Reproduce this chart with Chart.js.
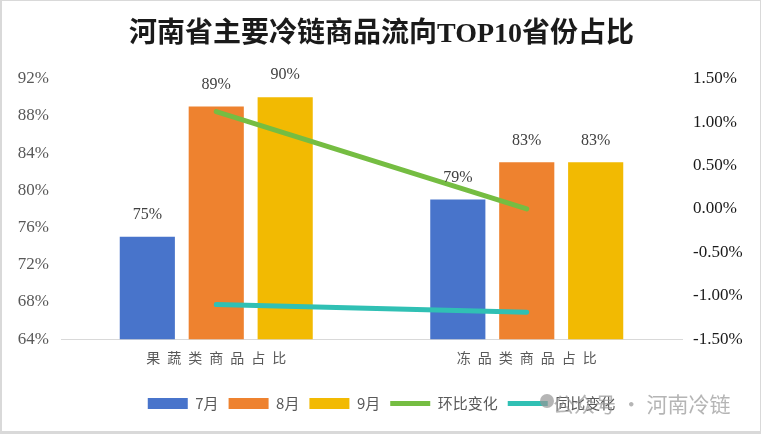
<!DOCTYPE html>
<html>
<head>
<meta charset="utf-8">
<script src="https://cdn.jsdelivr.net/npm/chart.js@4"></script>
<style>
  html, body { margin: 0; padding: 0; background: #fff; }
  #wrap {
    width: 761px; height: 434px; box-sizing: border-box; position: relative;
    border-style: solid; border-color: #d9d9d9;
    border-width: 1px 1px 3px 2px;
  }
  #chart { display: block; }
</style>
</head>
<body>
<div id="wrap"><canvas id="chart" width="758" height="430"></canvas></div>
<script>
// dados
const categorias = ['果蔬类商品占比', '冻品类商品占比'];
const julho = [75, 79];
const agosto = [89, 83];
const setembro = [90, 83];
const huanbi = [1.12, 0.0];     // 环比变化 (%)
const tongbi = [-1.10, -1.19];  // 同比变化 (%)
const ticksEsquerda = [64, 68, 72, 76, 80, 84, 88, 92];
const ticksDireita = [-1.5, -1.0, -0.5, 0, 0.5, 1.0, 1.5];

const serif = "'Liberation Serif', 'Times New Roman', 'Noto Sans CJK SC', serif";
const cjk = "'Noto Sans CJK SC', 'Liberation Serif', sans-serif";

// rótulos em cima das barras
const rotulosBarras = {
    id: 'rotulosBarras',
    afterDatasetsDraw(chart) {
        const ctx = chart.ctx;
        ctx.save();
        ctx.font = '16px ' + serif;
        ctx.fillStyle = '#404040';
        ctx.textAlign = 'center';
        ctx.textBaseline = 'middle';
        chart.data.datasets.forEach((ds, i) => {
            if (ds.type !== 'bar') return;
            chart.getDatasetMeta(i).data.forEach((bar, j) => {
                ctx.fillText(ds.data[j] + '%', bar.x, bar.y - 22);
            });
        });
        ctx.restore();
    }
};

// marca d'água do canto inferior
const marcaDagua = {
    id: 'marcaDagua',
    afterDraw(chart) {
        const ctx = chart.ctx;
        ctx.save();
        ctx.fillStyle = 'rgba(150,150,150,0.7)';
        ctx.beginPath();
        ctx.arc(545, 400, 7, 0, Math.PI * 2);
        ctx.fill();
        ctx.font = '21px ' + cjk;
        ctx.textBaseline = 'middle';
        ctx.fillText('公众号 · 河南冷链', 551, 403);
        ctx.restore();
    }
};

const ctx = document.getElementById('chart').getContext('2d');
new Chart(ctx, {
    data: {
        labels: categorias,
        datasets: [
            { type: 'bar', label: '7月', data: julho, backgroundColor: '#4874CB', borderColor: '#4874CB', borderWidth: 0, yAxisID: 'y', order: 1 },
            { type: 'bar', label: '8月', data: agosto, backgroundColor: '#EE822F', borderColor: '#EE822F', borderWidth: 0, yAxisID: 'y', order: 1 },
            { type: 'bar', label: '9月', data: setembro, backgroundColor: '#F2BA02', borderColor: '#F2BA02', borderWidth: 0, yAxisID: 'y', order: 1 },
            { type: 'line', label: '环比变化', data: huanbi, borderColor: '#75BD42', backgroundColor: '#75BD42', borderWidth: 5, borderCapStyle: 'round', pointRadius: 0, yAxisID: 'y1', order: 0 },
            { type: 'line', label: '同比变化', data: tongbi, borderColor: '#30C0B4', backgroundColor: '#30C0B4', borderWidth: 5, borderCapStyle: 'round', pointRadius: 0, yAxisID: 'y1', order: 0 }
        ]
    },
    options: {
        responsive: false,
        animation: false,
        layout: {
            padding: { top: 0, right: 13, bottom: 10, left: 14 }
        },
        datasets: {
            bar: { categoryPercentage: 0.666, barPercentage: 0.8 }
        },
        scales: {
            x: {
                afterFit: s => { s.height += 10; },
                grid: { display: false, drawTicks: false },
                border: { display: true, color: '#d9d9d9', width: 1 },
                ticks: {
                    color: '#595959',
                    padding: 10,
                    font: { size: 14, family: cjk },
                    callback: function(value) {
                        return this.getLabelForValue(value).split('').join('\u2002');
                    }
                }
            },
            y: {
                position: 'left',
                min: 64,
                max: 92,
                afterBuildTicks: s => { s.ticks = ticksEsquerda.map(v => ({ value: v })); },
                afterFit: s => { s.width = 45; },
                grid: { display: false, drawTicks: false },
                border: { display: false },
                ticks: {
                    color: '#595959',
                    padding: 12,
                    font: { size: 17, family: serif },
                    callback: v => v + '%'
                }
            },
            y1: {
                position: 'right',
                min: -1.5,
                max: 1.5,
                afterBuildTicks: s => { s.ticks = ticksDireita.map(v => ({ value: v })); },
                afterFit: s => { s.width = 65; },
                grid: { display: false, drawTicks: false },
                border: { display: false },
                ticks: {
                    color: '#1a1a1a',
                    padding: 11,
                    font: { size: 17, family: serif },
                    callback: v => v.toFixed(2) + '%'
                }
            }
        },
        plugins: {
            title: {
                display: true,
                text: '河南省主要冷链商品流向TOP10省份占比',
                color: '#1a1a1a',
                font: { size: 28, weight: 'bold', family: serif },
                padding: { top: 17, bottom: 27 }
            },
            legend: {
                position: 'bottom',
                labels: {
                    usePointStyle: true,
                    pointStyleWidth: 40,
                    boxHeight: 11,
                    padding: 10,
                    color: '#595959',
                    font: { size: 15, family: cjk },
                    sort: (a, b) => a.datasetIndex - b.datasetIndex,
                    generateLabels: chart => {
                        const itens = Chart.defaults.plugins.legend.labels.generateLabels(chart);
                        return itens.map(it => {
                            const ds = chart.data.datasets[it.datasetIndex];
                            it.pointStyle = ds.type === 'bar' ? 'rect' : 'line';
                            return it;
                        });
                    }
                }
            },
            tooltip: { enabled: false }
        }
    },
    plugins: [rotulosBarras, marcaDagua]
});
</script>
</body>
</html>
